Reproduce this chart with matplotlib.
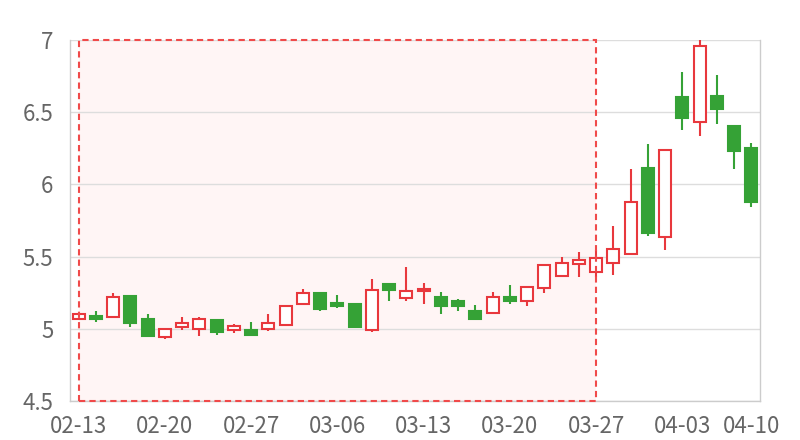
import matplotlib
matplotlib.use("Agg")
import matplotlib.pyplot as plt
from matplotlib.patches import Rectangle

plt.rcParams["font.family"] = ["Noto Sans CJK SC", "DejaVu Sans"]

dates = ["02-13", "02-14", "02-15", "02-16", "02-17",
         "02-20", "02-21", "02-22", "02-23", "02-24",
         "02-27", "02-28", "03-01", "03-02", "03-03",
         "03-06", "03-07", "03-08", "03-09", "03-10",
         "03-13", "03-14", "03-15", "03-16", "03-17",
         "03-20", "03-21", "03-22", "03-23", "03-24",
         "03-27", "03-28", "03-29", "03-30", "03-31",
         "04-03", "04-04", "04-06", "04-07", "04-10"]

opens = [5.065, 5.09, 5.085, 5.23, 5.07, 4.945, 5.01, 5.0, 5.06, 4.99,
         4.99, 5.0, 5.025, 5.175, 5.25, 5.18, 5.17, 4.99, 5.31, 5.215,
         5.265, 5.22, 5.19, 5.125, 5.11, 5.22, 5.195, 5.285, 5.365, 5.45,
         5.39, 5.455, 5.515, 6.115, 5.635, 6.605, 6.435, 6.61, 6.405, 6.25]
closes = [5.10, 5.07, 5.22, 5.04, 4.95, 5.00, 5.04, 5.065, 4.98, 5.02,
          4.96, 5.04, 5.16, 5.25, 5.14, 5.16, 5.01, 5.27, 5.27, 5.26,
          5.275, 5.155, 5.155, 5.07, 5.22, 5.195, 5.29, 5.44, 5.455, 5.475,
          5.49, 5.555, 5.875, 5.66, 6.235, 6.46, 6.955, 6.52, 6.23, 5.88]
lows = [5.06, 5.05, 5.08, 5.01, 4.95, 4.93, 4.99, 4.95, 4.96, 4.97,
        4.96, 4.985, 5.025, 5.17, 5.125, 5.145, 5.005, 4.98, 5.19, 5.19,
        5.175, 5.10, 5.12, 5.07, 5.105, 5.17, 5.16, 5.25, 5.365, 5.36,
        5.36, 5.37, 5.515, 5.64, 5.545, 6.38, 6.335, 6.42, 6.105, 5.845]
highs = [5.10, 5.125, 5.25, 5.235, 5.10, 5.005, 5.08, 5.08, 5.06, 5.035,
         5.045, 5.105, 5.16, 5.275, 5.255, 5.235, 5.175, 5.345, 5.31, 5.425,
         5.315, 5.255, 5.205, 5.165, 5.255, 5.30, 5.295, 5.44, 5.495, 5.53,
         5.545, 5.71, 6.11, 6.28, 6.235, 6.78, 7.0, 6.76, 6.405, 6.29]

highlight_start = "02-13"
highlight_end = "03-27"

up_color = "#e8383d"
down_color = "#35a236"
text_color = "#666666"

fig = plt.figure(figsize=(8, 4.4), dpi=100)
ax = fig.add_axes([70 / 800, 39 / 440, 690 / 800, 361 / 440])

x = list(range(len(dates)))
i0 = dates.index(highlight_start)
i1 = dates.index(highlight_end)

# highlighted period
ax.add_patch(Rectangle((i0, 4.5), i1 - i0, 2.5, facecolor="#fff5f5",
                       edgecolor="none", zorder=0))
ax.add_patch(Rectangle((i0, 4.5), i1 - i0, 2.5, facecolor="none",
                       edgecolor="#f04a4a", linestyle=(0, (3, 2)),
                       linewidth=1.5, zorder=5, clip_on=False))

for i in x:
    o, c, lo, hi = opens[i], closes[i], lows[i], highs[i]
    up = c >= o
    col = up_color if up else down_color
    ax.vlines(i, lo, hi, color=col, linewidth=1.5, zorder=2)
    bottom = min(o, c)
    h = max(abs(c - o), 0.004)
    ax.bar(i, h, bottom=bottom, width=0.7,
           facecolor="white" if up else col,
           edgecolor=col, linewidth=1.5, zorder=3)

ax.set_xlim(-0.5, len(dates) - 0.5)
ax.set_ylim(4.5, 7)

ax.set_yticks([4.5, 5, 5.5, 6, 6.5, 7])
ax.set_yticklabels(["4.5", "5", "5.5", "6", "6.5", "7"])
tick_idx = [0, 5, 10, 15, 20, 25, 30, 35, 39]
ax.set_xticks(tick_idx)
ax.set_xticklabels([dates[i] for i in tick_idx])

ax.tick_params(axis="y", length=0, pad=12, labelsize=16, labelcolor=text_color)
ax.tick_params(axis="x", length=0, pad=10, labelsize=16, labelcolor=text_color)

ax.grid(axis="y", color="#dddddd", linewidth=1, zorder=1)
ax.set_axisbelow(True)
ax.spines["top"].set_visible(False)
for s in ["left", "right", "bottom"]:
    ax.spines[s].set_color("#cccccc")
    ax.spines[s].set_linewidth(1)

fig.savefig("out.png", dpi=100, facecolor="white")
